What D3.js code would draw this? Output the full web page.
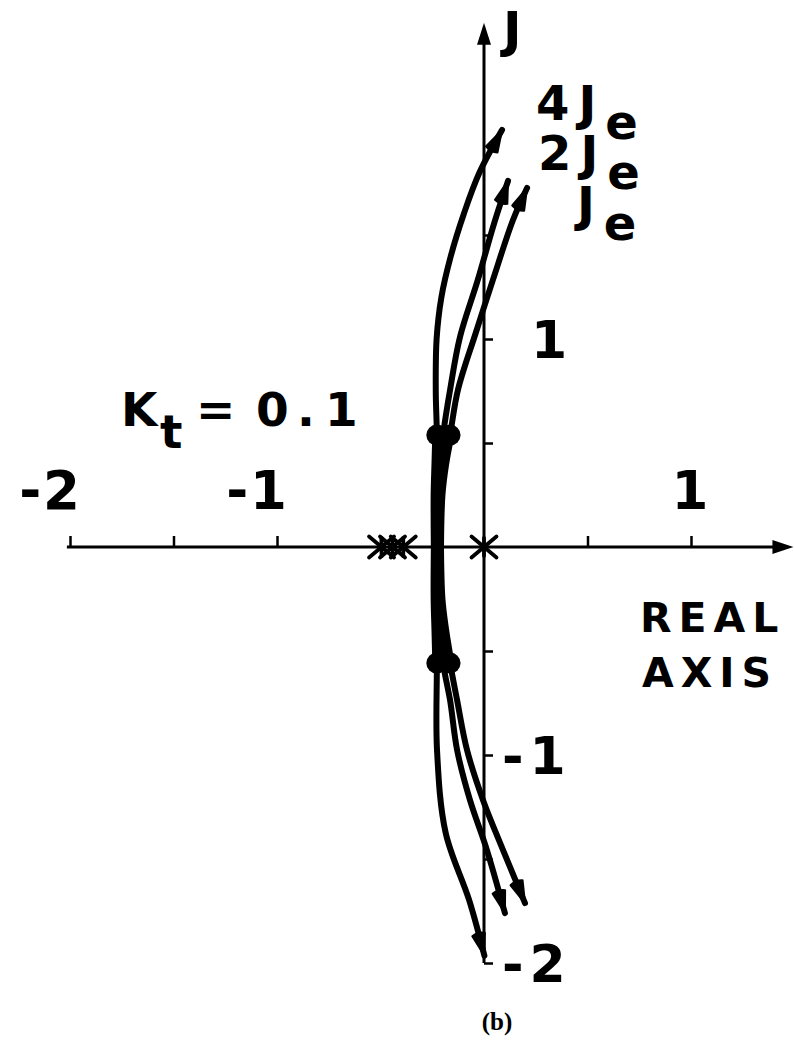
<!DOCTYPE html>
<html>
<head>
<meta charset="utf-8">
<script src="https://cdn.jsdelivr.net/npm/d3@7"></script>
<style>
  html, body { margin: 0; padding: 0; background: #fff; }
  svg { display: block; }
  text { font-family: "DejaVu Sans", sans-serif; font-weight: bold; fill: #000; }
</style>
</head>
<body>
<svg id="chart" width="794" height="1050"></svg>
<script>
// Root-locus branches for three load inertias, Kt = 0.1. Points are [real, imag].
const locus4JeUpper = [[-0.235,0],[-0.236,0.25],[-0.232,0.40],[-0.228,0.538],[-0.233,0.75],[-0.229,1.0],[-0.206,1.2],[-0.160,1.4],[-0.098,1.6],[-0.022,1.8],[0.087,2.005]];
const locus2JeUpper = [[-0.225,0],[-0.222,0.25],[-0.212,0.40],[-0.198,0.538],[-0.164,0.755],[-0.116,1.010],[-0.030,1.284],[0.050,1.560],[0.116,1.760]];
const locusJeUpper  = [[-0.215,0],[-0.208,0.25],[-0.190,0.40],[-0.164,0.538],[-0.126,0.755],[-0.040,1.029],[0.043,1.284],[0.140,1.572],[0.208,1.726]];
const locus4JeLower = [[-0.235,0],[-0.236,-0.25],[-0.232,-0.40],[-0.228,-0.558],[-0.227,-0.976],[-0.185,-1.375],[-0.072,-1.697],[0.002,-1.965]];
const locus2JeLower = [[-0.225,0],[-0.222,-0.25],[-0.212,-0.40],[-0.198,-0.558],[-0.164,-0.736],[-0.130,-0.976],[-0.068,-1.216],[0.014,-1.457],[0.101,-1.760]];
const locusJeLower  = [[-0.215,0],[-0.208,-0.25],[-0.190,-0.40],[-0.164,-0.558],[-0.130,-0.736],[-0.082,-0.976],[-0.005,-1.216],[0.092,-1.457],[0.198,-1.712]];

// Open-loop poles (drawn as asterisks) and closed-loop roots (dots)
const poles = [-0.495, -0.442, -0.390, 0];
const rootDots = [[-0.228,0.538],[-0.164,0.538],[-0.228,-0.558],[-0.164,-0.558]];

// Tick values and labels
const realTicks = [-2, -1.5, -1, -0.5, 0.5, 1];
const realLabels = [-2, -1, 1];
const imagTicks = [-2, -1.5, -1, -0.5, 0.5, 1, 1.5];
const imagLabels = [1, -1, -2];

const svg = d3.select("#chart");
const x = d3.scaleLinear().domain([-2, 1]).range([70, 691]);
const y = d3.scaleLinear().domain([-2, 2]).range([963, 131]);

// Real axis
const gx = svg.append("g").attr("transform", `translate(0,${y(0)})`)
  .call(d3.axisTop(x).tickValues(realTicks).tickSize(11).tickFormat(""));
gx.select(".domain").remove();
gx.selectAll(".tick line").attr("stroke", "#000").attr("stroke-width", 2.5);
svg.append("line").attr("x1", x(-2.015)).attr("x2", x(1.44))
  .attr("y1", y(0)).attr("y2", y(0)).attr("stroke", "#000").attr("stroke-width", 3);
svg.append("path")
  .attr("d", `M${x(1.495)},${y(0)} L${x(1.495)-21},${y(0)-7} L${x(1.495)-21},${y(0)+7} Z`)
  .attr("fill", "#000");

// Imaginary axis
const gy = svg.append("g").attr("transform", `translate(${x(0)},0)`)
  .call(d3.axisRight(y).tickValues(imagTicks).tickSize(9).tickFormat(""));
gy.select(".domain").remove();
gy.selectAll(".tick line").attr("stroke", "#000").attr("stroke-width", 2.5);
svg.append("line").attr("x1", x(0)).attr("x2", x(0))
  .attr("y1", y(-2.0)).attr("y2", y(2.42)).attr("stroke", "#000").attr("stroke-width", 3);
svg.append("path")
  .attr("d", `M${x(0)},${y(2.52)} L${x(0)-7},${y(2.52)+22} L${x(0)+7},${y(2.52)+22} Z`)
  .attr("fill", "#000");

// Locus curves with arrowheads
const line = d3.line().x(d => x(d[0])).y(d => y(d[1])).curve(d3.curveCatmullRom.alpha(0.5));
function arrowHead(pts) {
  const p1 = pts[pts.length - 1], p0 = pts[pts.length - 2];
  const tx = x(p1[0]), ty = y(p1[1]);
  const dx = tx - x(p0[0]), dy = ty - y(p0[1]);
  const len = Math.hypot(dx, dy), ux = dx / len, uy = dy / len;
  const L = 22, W = 6.5;
  const bx = tx - ux * L, by = ty - uy * L;
  return `M${tx},${ty} L${bx - uy * W},${by + ux * W} Q${bx - ux*3},${by - uy*3} ${bx + uy * W},${by - ux * W} Z`;
}
const loci = [locus4JeUpper, locus2JeUpper, locusJeUpper, locus4JeLower, locus2JeLower, locusJeLower];
loci.forEach(pts => {
  // overlapping section between the real axis and the root dots is inked heavier
  svg.append("path").attr("d", line(pts.slice(0, 4)))
    .attr("fill", "none").attr("stroke", "#000").attr("stroke-width", 9)
    .attr("stroke-linecap", "round").attr("stroke-linejoin", "round");
  svg.append("path").attr("d", line(pts))
    .attr("fill", "none").attr("stroke", "#000").attr("stroke-width", 6)
    .attr("stroke-linecap", "round").attr("stroke-linejoin", "round");
  svg.append("path").attr("d", arrowHead(pts)).attr("fill", "#000")
    .attr("stroke", "#000").attr("stroke-width", 2).attr("stroke-linejoin", "round");
});

// Closed-loop root dots
svg.selectAll("circle.root").data(rootDots).join("circle")
  .attr("class", "root").attr("cx", d => x(d[0])).attr("cy", d => y(d[1]))
  .attr("r", 10.5).attr("fill", "#000");

// Pole asterisks
poles.forEach(p => {
  const cx = x(p), cy = y(0), a = 12.5, b = 10.5;
  const g = svg.append("g").attr("stroke", "#000").attr("stroke-width", 3.8).attr("stroke-linecap", "round");
  g.append("line").attr("x1", cx - a).attr("y1", cy - b).attr("x2", cx + a).attr("y2", cy + b);
  g.append("line").attr("x1", cx - a).attr("y1", cy + b).attr("x2", cx + a).attr("y2", cy - b);
  g.append("line").attr("x1", cx).attr("y1", cy - 9).attr("x2", cx).attr("y2", cy + 9);
});

// Real-axis numbers
svg.selectAll("text.rl").data(realLabels).join("text")
  .attr("class", "rl").attr("x", d => x(d) + (d === 1 ? 0 : 12)).attr("y", y(0) - 38)
  .attr("text-anchor", d => d === 1 ? "middle" : "end")
  .attr("font-size", 53).attr("letter-spacing", 2)
  .text(d => d < 0 ? "-" + Math.abs(d) : String(d));

// Imaginary-axis numbers
svg.selectAll("text.il").data(imagLabels).join("text")
  .attr("class", "il").attr("x", d => d > 0 ? x(0) + 68 : x(0) + 18).attr("y", d => y(d) + 19)
  .attr("text-anchor", d => d > 0 ? "middle" : "start")
  .attr("font-size", 52).attr("letter-spacing", 6)
  .text(d => d < 0 ? "-" + Math.abs(d) : String(d));

// Axis names
svg.append("text").attr("x", 503).attr("y", 47).attr("font-size", 50).text("J");
const realName = svg.append("text").attr("font-size", 41).attr("letter-spacing", 7);
realName.append("tspan").attr("x", 640).attr("y", 632).text("REAL");
realName.append("tspan").attr("x", 642).attr("y", 687).text("AXIS");

// Branch labels
const branchLabels = [
  { lead: "4J", x: 536, y: 120 },
  { lead: "2J", x: 538, y: 170 },
  { lead: "J",  x: 577, y: 221 }
];
branchLabels.forEach(b => {
  const t = svg.append("text").attr("x", b.x).attr("y", b.y).attr("font-size", 48).attr("letter-spacing", 9);
  t.append("tspan").text(b.lead);
  t.append("tspan").attr("dy", 19).text("e");
});

// Gain annotation
const kt = svg.append("text").attr("y", 426).attr("font-size", 47);
kt.append("tspan").attr("x", 121).text("K");
kt.append("tspan").attr("dy", 22).attr("x", 160).text("t");
kt.append("tspan").attr("dy", -22).attr("x", 196).text("=");
kt.append("tspan").attr("x", 256).text("0");
kt.append("tspan").attr("x", 297).text(".");
kt.append("tspan").attr("x", 325).text("1");

// Panel caption
svg.append("text").attr("x", 497).attr("y", 1030).attr("text-anchor", "middle")
  .attr("font-size", 25).style("font-family", "'Liberation Serif', serif").text("(b)");
</script>
</body>
</html>
